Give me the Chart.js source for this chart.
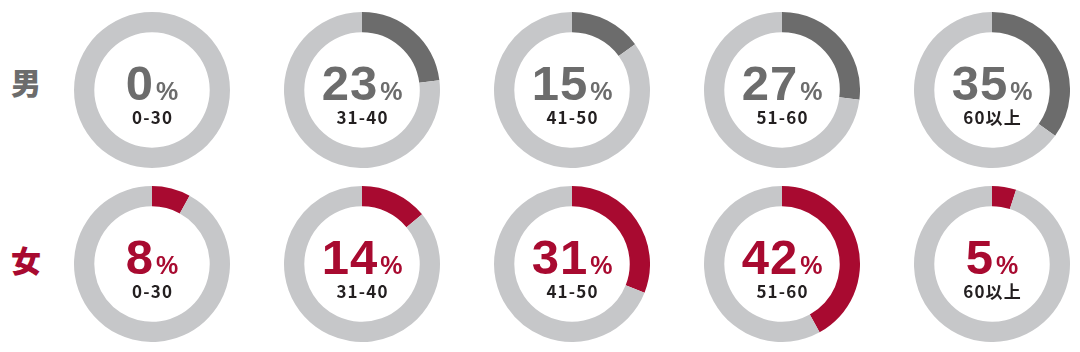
<!DOCTYPE html>
<html><head><meta charset="utf-8">
<script src="https://cdn.jsdelivr.net/npm/chart.js@4"></script>
<style>
html,body{margin:0;padding:0;background:#fff;}
#wrap{position:relative;width:1080px;height:352px;overflow:hidden;}
canvas.d{position:absolute;}
.num{position:absolute;width:200px;text-align:center;font-family:"Liberation Sans",Arial,sans-serif;font-weight:bold;white-space:nowrap;font-size:49px;line-height:49px;height:49px;}
.num .v{font-size:49px;letter-spacing:1px;}
.num .p{font-size:25px;margin-left:2px;}
.lab{position:absolute;width:200px;text-align:center;font-family:"Noto Sans CJK JP","Noto Sans",sans-serif;font-weight:bold;font-size:17px;letter-spacing:1.2px;padding-left:1.2px;box-sizing:border-box;color:#231f20;line-height:17px;height:17px;white-space:nowrap;}
.row{position:absolute;font-family:"Noto Sans CJK JP",sans-serif;font-weight:900;font-size:30px;line-height:30px;height:30px;}
</style></head><body>
<div id="wrap"></div>
<script>
const categories = ["0-30","31-40","41-50","51-60","60以上"];
const rowLabels = ["男","女"];
const maleValues = [0,23,15,27,35];
const femaleValues = [8,14,31,42,5];

const TRACK = "#c6c7c9";
const rowColors = ["#6c6c6c","#a80a30"];
const centersX = [152,362,572,782,992];
const centersY = [90,264];
const rowLabelY = [82.5,261];
const R = 78;

const wrap = document.getElementById('wrap');
[maleValues, femaleValues].forEach((vals, r) => {
  const rl = document.createElement('div');
  rl.className = 'row';
  rl.textContent = rowLabels[r];
  rl.style.color = rowColors[r];
  rl.style.left = '11px';
  rl.style.top = (rowLabelY[r] - 16.7) + 'px';
  wrap.appendChild(rl);
  vals.forEach((v, i) => {
    const cx = centersX[i], cy = centersY[r];
    const c = document.createElement('canvas');
    c.className = 'd';
    c.width = 2*R; c.height = 2*R;
    c.style.left = (cx - R) + 'px';
    c.style.top = (cy - R) + 'px';
    wrap.appendChild(c);
    new Chart(c, {
      type: 'doughnut',
      data: { labels: [categories[i], ''], datasets: [{
        data: [v, 100 - v],
        backgroundColor: [rowColors[r], TRACK],
        borderWidth: 0, hoverOffset: 0, offset: 0
      }]},
      options: {
        responsive: false, animation: false, cutout: '74%',
        events: [],
        plugins: { legend: { display: false }, tooltip: { enabled: false } },
        layout: { padding: 0 }
      }
    });
    const n = document.createElement('div');
    n.className = 'num';
    n.style.color = rowColors[r];
    n.style.left = (cx - 100) + 'px';
    n.style.top = (cy + 10 - 41.4) + 'px';
    n.innerHTML = '<span class="v">' + v + '</span><span class="p">%</span>';
    wrap.appendChild(n);
    const l = document.createElement('div');
    l.className = 'lab';
    l.style.left = (cx - 100) + 'px';
    l.style.top = (cy + 18) + 'px';
    l.textContent = categories[i];
    wrap.appendChild(l);
  });
});
</script>
</body></html>
